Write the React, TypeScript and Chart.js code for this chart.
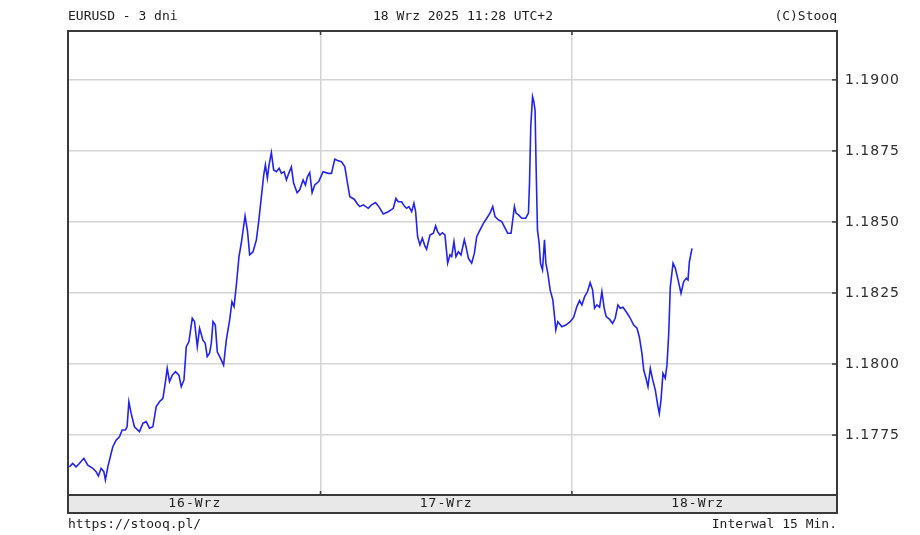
import { useEffect, useRef } from 'react';
import { Chart, registerables } from 'chart.js';

Chart.register(...registerables);

// godziny od 16 Wrz 00:00, notowania EURUSD co ~15 min
const hours = [
  0.03, 0.35, 0.67, 0.98, 1.41, 1.79, 2.27, 2.58, 2.8, 3.06, 3.32, 3.47, 3.7, 4.02, 4.18, 4.49,
  4.81, 5.07, 5.38, 5.54, 5.71, 5.93, 6.24, 6.72, 7.05, 7.36, 7.68, 8.0, 8.32, 8.63, 8.96, 9.18,
  9.37, 9.59, 9.85, 10.16, 10.49, 10.71, 10.97, 11.19, 11.44, 11.76, 11.98, 12.24, 12.46, 12.78,
  13.0, 13.19, 13.41, 13.58, 13.74, 13.96, 14.15, 14.46, 14.75, 15.01, 15.33, 15.55, 15.75, 15.97,
  16.22, 16.44, 16.8, 17.04, 17.24, 17.56, 17.88, 18.1, 18.36, 18.58, 18.74, 18.93, 19.09, 19.31,
  19.53, 19.79, 20.05, 20.27, 20.53, 20.75, 20.97, 21.22, 21.44, 21.77, 22.02, 22.34, 22.56, 22.75,
  22.97, 23.2, 23.45, 23.83, 24.25, 24.73, 25.05, 25.36, 25.62, 26.0, 26.32, 26.58, 26.8, 27.22,
  27.53, 27.75, 28.08, 28.56, 28.87, 29.25, 29.57, 29.99, 30.47, 30.95, 31.2, 31.42, 31.74, 32.0,
  32.22, 32.44, 32.7, 32.92, 33.08, 33.27, 33.49, 33.72, 33.97, 34.13, 34.45, 34.77, 34.99, 35.18,
  35.4, 35.63, 35.88, 36.14, 36.36, 36.52, 36.74, 36.93, 37.16, 37.41, 37.73, 37.89, 38.12, 38.43,
  38.69, 38.91, 39.23, 39.55, 39.87, 40.18, 40.44, 40.66, 40.99, 41.3, 41.62, 41.87, 42.19, 42.51,
  42.67, 42.9, 43.21, 43.59, 43.85, 43.95, 44.07, 44.24, 44.36, 44.48, 44.58, 44.71, 44.87, 45.0,
  45.19, 45.38, 45.51, 45.7, 45.92, 46.18, 46.34, 46.46, 46.65, 47.04, 47.42, 47.83, 48.16, 48.47,
  48.73, 48.95, 49.21, 49.49, 49.74, 49.97, 50.16, 50.38, 50.64, 50.86, 51.08, 51.27, 51.6, 51.88,
  52.13, 52.39, 52.61, 52.87, 53.18, 53.57, 53.89, 54.21, 54.43, 54.68, 54.85, 55.07, 55.26, 55.48,
  55.71, 55.96, 56.21, 56.34, 56.5, 56.69, 56.91, 57.07, 57.24, 57.39, 57.65, 57.87, 58.13, 58.41,
  58.67, 58.92, 59.08, 59.21, 59.46,
];

const eurusd = [
  1.17638, 1.1765, 1.17638, 1.1765, 1.17668, 1.17644, 1.17633, 1.17621, 1.17606, 1.17633, 1.17621,
  1.17592, 1.17638, 1.17686, 1.17709, 1.17732, 1.17744, 1.17768, 1.17768, 1.17779, 1.17867, 1.17826,
  1.17779, 1.17762, 1.17791, 1.17797, 1.17774, 1.17779, 1.1785, 1.17867, 1.17879, 1.17932, 1.17985,
  1.17938, 1.17961, 1.17973, 1.17961, 1.1792, 1.17944, 1.18061, 1.18078, 1.18161, 1.18149, 1.18061,
  1.18126, 1.18084, 1.18073, 1.18026, 1.18038, 1.18073, 1.18149, 1.18137, 1.18043, 1.1802, 1.17996,
  1.18084, 1.18155, 1.18219, 1.18202, 1.18278, 1.18378, 1.18425, 1.18521, 1.18465, 1.18384, 1.18395,
  1.18437, 1.18501, 1.18589, 1.18665, 1.18701, 1.18654, 1.18701, 1.18744, 1.18683, 1.18677, 1.18689,
  1.18671, 1.18677, 1.18648, 1.18671, 1.18693, 1.18636, 1.18603, 1.18613, 1.18648, 1.1863, 1.18659,
  1.18674, 1.18603, 1.1863, 1.18642, 1.18677, 1.18671, 1.18671, 1.18721, 1.18716, 1.18712, 1.18695,
  1.18636, 1.18589, 1.1858, 1.18563, 1.18554, 1.1856, 1.18548, 1.1856, 1.18568, 1.18554, 1.18528,
  1.18536, 1.18548, 1.18583, 1.18571, 1.18571, 1.18556, 1.18548, 1.18554, 1.18536, 1.18566, 1.18536,
  1.18448, 1.18419, 1.18443, 1.18415, 1.18404, 1.18454, 1.1846, 1.18486, 1.18466, 1.18454, 1.18462,
  1.18454, 1.18355, 1.18384, 1.18378, 1.18431, 1.18378, 1.18395, 1.18384, 1.18437, 1.18413, 1.18372,
  1.18355, 1.1839, 1.18448, 1.18472, 1.18495, 1.18513, 1.18531, 1.18554, 1.18519, 1.18507, 1.18501,
  1.18478, 1.1846, 1.1846, 1.18554, 1.18531, 1.18525, 1.18513, 1.18513, 1.18531, 1.18636, 1.18836,
  1.18941, 1.18924, 1.18894, 1.18695, 1.18472, 1.18425, 1.18355, 1.18331, 1.18437, 1.18355, 1.18319,
  1.18261, 1.18225, 1.18167, 1.1812, 1.18149, 1.18131, 1.18137, 1.18149, 1.18164, 1.18202, 1.18223,
  1.18208, 1.18237, 1.18255, 1.18286, 1.18261, 1.18196, 1.18208, 1.182, 1.18255, 1.18196, 1.18167,
  1.18157, 1.18143, 1.18161, 1.18208, 1.18196, 1.182, 1.18184, 1.18161, 1.18137, 1.18126, 1.18096,
  1.18038, 1.17979, 1.1795, 1.1792, 1.17985, 1.17944, 1.17908, 1.1785, 1.17826, 1.17873, 1.17967,
  1.1795, 1.17996, 1.18108, 1.18272, 1.18355, 1.18337, 1.18296, 1.18249, 1.1829, 1.18302, 1.18296,
  1.1836, 1.18407,
];

const dayLabels = ['16-Wrz', '17-Wrz', '18-Wrz'];
const hourTicks = [12, 24, 36, 48, 60];
const priceTicks = [1.1775, 1.18, 1.1825, 1.185, 1.1875, 1.19];

const HOUR_MIN = -0.1;
const HOUR_MAX = 73.3;
const PRICE_MIN = 1.17539;
const PRICE_MAX = 1.19172;
const BAND = 18;

const MONO = '"DejaVu Sans Mono", "Liberation Mono", monospace';

const stooqFrame = {
  id: 'stooqFrame',
  beforeDraw(chart: any) {
    const { ctx, chartArea: a } = chart;
    ctx.save();
    ctx.fillStyle = '#ffffff';
    ctx.fillRect(0, 0, chart.width, chart.height);
    ctx.fillStyle = '#e8e8e8';
    ctx.fillRect(a.left, a.bottom, a.right - a.left, BAND);
    ctx.restore();
    ctx.letterSpacing = '1px';
  },
  afterDraw(chart: any) {
    const { ctx, chartArea: a, scales } = chart;
    ctx.save();
    ctx.letterSpacing = '0px';
    ctx.strokeStyle = '#3a3a3a';
    ctx.lineWidth = 2;
    ctx.strokeRect(a.left, a.top, a.right - a.left, a.bottom + BAND - a.top);
    ctx.beginPath();
    ctx.moveTo(a.left, a.bottom);
    ctx.lineTo(a.right, a.bottom);
    ctx.stroke();

    // krótkie kreski podziałki
    ctx.lineWidth = 1.5;
    priceTicks.forEach((v) => {
      const y = scales.y.getPixelForValue(v);
      ctx.beginPath();
      ctx.moveTo(a.right - 5, y);
      ctx.lineTo(a.right, y);
      ctx.stroke();
    });
    [24, 48].forEach((h) => {
      const x = scales.x.getPixelForValue(h);
      ctx.beginPath();
      ctx.moveTo(x, a.top);
      ctx.lineTo(x, a.top + 4);
      ctx.moveTo(x, a.bottom);
      ctx.lineTo(x, a.bottom - 4);
      ctx.stroke();
    });

    ctx.fillStyle = '#1e1e1e';
    ctx.font = `13px ${MONO}`;
    ctx.textBaseline = 'middle';
    ctx.textAlign = 'left';
    ctx.fillText('EURUSD - 3 dni', a.left, 17);
    ctx.fillText('https://stooq.pl/', a.left, 525);
    ctx.textAlign = 'center';
    ctx.fillText('18 Wrz 2025 11:28 UTC+2', 463, 17);
    ctx.textAlign = 'right';
    ctx.fillText('(C)Stooq', a.right, 17);
    ctx.fillText('Interwal 15 Min.', a.right, 525);
    ctx.restore();
  },
};

function StooqChart() {
  const canvasRef = useRef<HTMLCanvasElement>(null);
  const chartRef = useRef<Chart | null>(null);

  useEffect(() => {
    document.body.style.margin = '0';
    if (!canvasRef.current) return;
    const ctx = canvasRef.current.getContext('2d');
    if (!ctx) return;

    if (chartRef.current) chartRef.current.destroy();

    chartRef.current = new Chart(ctx, {
      type: 'line',
      data: {
        datasets: [
          {
            label: 'EURUSD',
            data: hours.map((h, i) => ({ x: h, y: eurusd[i] })),
            borderColor: '#2323ee',
            borderWidth: 1.6,
            pointRadius: 0,
            tension: 0,
            fill: false,
          },
        ],
      },
      options: {
        responsive: false,
        animation: false,
        layout: { padding: { left: 68, top: 31, right: 0, bottom: 22 } },
        plugins: {
          legend: { display: false },
          tooltip: { enabled: false },
        },
        scales: {
          x: {
            type: 'linear',
            position: 'bottom',
            min: HOUR_MIN,
            max: HOUR_MAX,
            afterBuildTicks: (scale: any) => {
              scale.ticks = hourTicks.map((value) => ({ value }));
            },
            afterFit: (scale: any) => {
              scale.height = BAND;
            },
            ticks: {
              autoSkip: false,
              maxRotation: 0,
              padding: 1,
              color: '#1e1e1e',
              font: { family: MONO, size: 13 },
              callback: (v: any) => (v % 24 === 12 ? dayLabels[(v - 12) / 24] : ''),
            },
            grid: {
              drawTicks: false,
              lineWidth: 1.5,
              color: (c: any) =>
                c.tick && c.tick.value % 24 === 0 ? '#d4d4d4' : 'rgba(0,0,0,0)',
            },
            border: { display: false },
          },
          y: {
            position: 'right',
            min: PRICE_MIN,
            max: PRICE_MAX,
            afterBuildTicks: (scale: any) => {
              scale.ticks = priceTicks.map((value) => ({ value }));
            },
            afterFit: (scale: any) => {
              scale.width = 83;
            },
            ticks: {
              padding: 8,
              color: '#2e2e2e',
              font: { family: '"DejaVu Sans", Verdana, sans-serif', size: 14 },
              callback: (v: any) => Number(v).toFixed(4),
            },
            grid: { drawTicks: false, lineWidth: 1.5, color: '#d4d4d4' },
            border: { display: false },
          },
        },
      },
      plugins: [stooqFrame],
    });

    return () => {
      if (chartRef.current) {
        chartRef.current.destroy();
        chartRef.current = null;
      }
    };
  }, []);

  return (
    <div style={{ width: 920, height: 535, background: '#ffffff' }}>
      <canvas ref={canvasRef} width={920} height={535} />
    </div>
  );
}

export default function App() {
  return <StooqChart />;
}
